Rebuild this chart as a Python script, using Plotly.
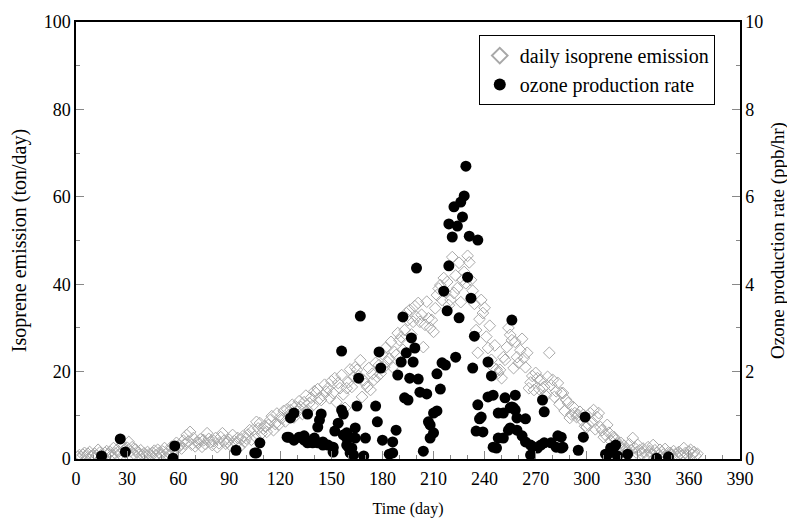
import plotly.graph_objects as go

# Daily isoprene emission (ton/day), days 1..365
iso_val = [
    0.5, 0.9, 0.4, 1.0, 1.4, 0.6, 1.2, 1.6, 0.7, 0.9,
    1.2, 0.8, 2.1, 1.5, 1.0, 0.6, 1.4, 1.8, 1.1, 1.6,
    0.9, 2.5, 1.3, 2.1, 1.7, 1.1, 3.2, 2.0, 1.5, 2.6,
    3.9, 1.8, 2.7, 1.2, 2.2, 1.6, 1.0, 2.0, 0.9, 1.3,
    0.8, 1.6, 1.1, 0.6, 1.4, 1.9, 0.9, 2.1, 1.4, 1.0,
    1.7, 2.5, 1.2, 1.6, 2.0, 2.8, 1.5, 2.3, 3.7, 2.6,
    3.1, 2.4, 4.2, 3.5, 5.5, 4.0, 6.2, 3.3, 4.8, 2.9,
    3.8, 3.7, 4.5, 2.8, 4.3, 3.4, 5.9, 4.6, 3.9, 3.2,
    4.1, 4.8, 2.7, 3.6, 5.0, 5.9, 4.2, 3.5, 3.9, 4.4,
    3.0, 5.5, 4.1, 3.6, 4.8, 2.7, 4.5, 5.2, 3.9, 4.7,
    5.6, 6.6, 4.4, 6.6, 5.2, 8.5, 7.0, 8.2, 5.8, 6.9,
    7.5, 6.2, 7.8, 8.9, 9.8, 6.6, 8.0, 10.4, 7.8, 9.6,
    9.4, 11.0, 8.6, 11.4, 10.0, 11.2, 12.4, 9.5, 12.0, 10.8,
    13.2, 11.9, 10.3, 13.0, 14.5, 11.2, 12.8, 14.0, 12.2, 15.5,
    15.1, 16.0, 13.8, 13.5, 14.6, 17.0, 15.4, 16.2, 13.9, 17.8,
    15.1, 18.5, 13.0, 17.4, 16.2, 19.2, 14.8, 11.7, 16.2, 17.6,
    20.5, 16.5, 18.8, 21.0, 20.4, 19.0, 22.6, 14.2, 18.0, 17.2,
    16.5, 20.8, 15.8, 19.5, 18.1, 22.0, 18.8, 21.5, 19.6, 24.0,
    21.0, 25.5, 22.2, 23.0, 26.8, 21.0, 24.5, 23.8, 28.8, 27.2,
    27.9, 25.0, 29.5, 33.4, 31.8, 34.1, 28.5, 31.4, 35.0, 32.5,
    35.7, 31.4, 33.0, 25.6, 30.7, 36.0, 32.2, 30.0, 31.8, 29.1,
    34.5, 37.5, 39.0, 39.8, 36.4, 41.4, 38.2, 40.5, 35.2, 36.4,
    46.2, 38.0, 42.0, 39.1, 44.9, 35.9, 41.0, 42.8, 40.2, 46.5,
    45.0, 41.0, 38.5, 35.5, 29.5, 24.3, 32.0, 36.4, 33.4, 34.6,
    28.0, 25.4, 30.5, 22.7, 21.0, 26.0, 20.5, 19.7, 20.4, 18.5,
    23.3, 22.7, 25.6, 30.0, 28.4, 27.2, 20.8, 26.8, 23.3, 22.0,
    24.9, 27.5, 23.1, 21.0, 24.3, 16.2, 17.5, 19.0, 15.8, 19.7,
    18.5, 16.0, 18.1, 16.2, 16.5, 14.5, 18.8, 24.3, 16.9, 18.1,
    14.2, 15.5, 17.4, 12.5, 15.1, 15.1, 11.0, 13.5, 12.8, 9.4,
    10.2, 11.9, 10.5, 9.6, 10.1, 10.8, 8.9, 10.1, 7.5, 7.3,
    7.8, 10.5, 8.5, 11.2, 6.8, 9.6, 10.5, 7.3, 6.6, 5.0,
    5.5, 7.8, 6.0, 4.2, 5.2, 5.0, 4.3, 3.5, 2.8, 3.7,
    2.5, 3.0, 2.2, 1.8, 3.4, 2.0, 4.8, 2.6, 1.5, 3.2,
    2.0, 1.2, 2.4, 1.6, 0.9, 2.7, 1.8, 1.1, 3.2, 2.0,
    1.4, 0.8, 2.1, 1.6, 1.0, 2.3, 0.7, 1.5, 1.4, 0.9,
    1.8, 1.1, 0.6, 1.6, 1.2, 0.8, 2.5, 1.4, 0.9, 1.7,
    2.1, 1.0, 1.6, 0.7, 1.2,
]
iso_day = list(range(1, len(iso_val) + 1))

# Ozone production rate (ppb/hr)
o3_day = [
    15, 26, 29, 57, 58, 94, 105, 106, 108,
    124, 125, 126, 128, 128, 131, 132, 134, 134, 135, 136, 136, 139, 139, 140,
    142, 142, 143, 144, 145, 145, 146, 148, 151, 151, 151, 152, 154, 156, 156,
    157, 157, 159, 159, 159, 160, 161, 161, 161, 162, 163, 164, 164, 165, 166,
    167, 169, 170, 176, 177, 178, 179, 180, 184, 186, 186,
    188, 189, 191, 192, 193, 194, 195, 196, 197, 198, 199, 200, 201, 202, 204,
    206, 207, 208, 208, 210, 210, 212, 212, 214, 215, 216, 217, 218, 219, 219,
    221, 222, 223, 224, 225, 226, 227, 228, 229, 230, 231, 232, 233, 234, 235,
    236, 236, 237, 238, 239, 242, 242, 244, 245, 245, 247, 248, 248, 251, 251,
    252, 254, 255, 255, 256, 256, 257, 258, 258, 259, 259, 262, 264, 264, 267,
    267, 269, 271, 273, 274, 275, 275, 279, 282, 283, 285, 285, 286, 295, 298,
    299, 311, 312, 314, 315, 316, 317, 318, 324, 341, 348,
]
o3_val = [
    0.07, 0.46, 0.16, 0.02, 0.30, 0.20, 0.14, 0.14, 0.37,
    0.50, 0.50, 0.94, 1.05, 0.43, 0.50, 0.50, 0.53, 0.43, 0.43, 1.03, 0.37, 0.37, 0.43, 0.48,
    0.73, 0.37, 0.89, 1.03, 0.39, 0.32, 0.34, 0.32, 0.27, 0.16, 0.25, 0.64, 0.82, 1.12, 2.47,
    1.03, 0.55, 0.60, 0.48, 0.32, 0.27, 0.50, 0.14, 0.25, 0.25, 0.09, 0.71, 0.48, 1.21, 1.85,
    3.27, 0.07, 0.48, 1.21, 0.85, 2.45, 2.08, 0.43, 0.11, 0.39, 0.14,
    0.66, 1.92, 2.22, 3.25, 1.40, 2.43, 1.35, 1.85, 2.77, 2.22, 2.54, 4.37, 1.83, 1.53, 0.18,
    1.49, 0.85, 0.78, 0.48, 1.05, 0.60, 1.10, 1.95, 1.60, 2.20, 3.84, 2.15, 3.39, 4.42, 5.38,
    5.08, 5.77, 2.33, 5.33, 3.23, 5.88, 5.54, 6.02, 6.70, 4.16, 5.10, 3.68, 2.08, 2.81, 0.64,
    5.01, 1.24, 0.92, 0.96, 0.62, 1.42, 2.22, 1.90, 1.46, 0.27, 0.25, 0.48, 1.05, 1.05, 0.48,
    1.40, 0.66, 1.17, 0.71, 1.19, 3.18, 1.17, 1.46, 1.12, 0.94, 0.66, 0.53, 0.92, 0.39, 0.32,
    0.09, 0.27, 0.25, 0.32, 1.35, 1.08, 0.37, 0.37, 0.27, 0.53, 0.25, 0.50, 0.27, 0.20, 0.50,
    0.96, 0.11, 0.09, 0.25, 0.20, 0.27, 0.32, 0.07, 0.11, 0.02, 0.05,
]

x_ticks = list(range(0, 391, 30))

FONT = "Liberation Serif, Times New Roman, serif"

fig = go.Figure()
fig.add_trace(go.Scatter(
    x=iso_day, y=iso_val, mode="markers", name="daily isoprene emission",
    marker=dict(symbol="diamond-open", size=9, color="#a8a8a8", line=dict(width=1, color="#a8a8a8")),
))
fig.add_trace(go.Scatter(
    x=o3_day, y=o3_val, mode="markers", name="ozone production rate", yaxis="y2",
    marker=dict(symbol="circle", size=11, color="black"),
))

axis_common = dict(
    showgrid=False, zeroline=False, showline=True, linecolor="black", linewidth=1.5,
    ticks="inside", ticklen=8, tickcolor="#888", tickwidth=1, automargin=False,
    tickfont=dict(family=FONT, size=18, color="black"),
)

# page body has an 8px margin: figure is sized/positioned to compensate
fig.update_layout(
    width=787, height=513,
    margin=dict(l=68, r=55, t=14, b=62),
    paper_bgcolor="white", plot_bgcolor="white",
    font=dict(family=FONT, size=16, color="black"),
    showlegend=True,
    legend=dict(
        x=0.962, y=0.97, xanchor="right", yanchor="top",
        bordercolor="black", borderwidth=1, bgcolor="white",
        font=dict(family=FONT, size=20, color="black"),
        tracegroupgap=0, itemsizing="constant", itemwidth=30,
    ),
    xaxis=dict(
        range=[0, 390], tickvals=x_ticks, mirror=True, ticklabelstandoff=3,
        minor=dict(dtick=10, ticks="inside", ticklen=4, tickcolor="#888"),
        title=dict(text="Time (day)", font=dict(family=FONT, size=16), standoff=14),
        **axis_common,
    ),
    yaxis=dict(
        range=[0, 100], dtick=20,
        minor=dict(dtick=10, ticks="inside", ticklen=4, tickcolor="#888"),
        title=dict(text="Isoprene emission (ton/day)", font=dict(family=FONT, size=20), standoff=14),
        **axis_common,
    ),
    yaxis2=dict(
        range=[0, 10], dtick=2, overlaying="y", side="right",
        minor=dict(dtick=1, ticks="inside", ticklen=4, tickcolor="#888"),
        title=dict(text="Ozone production rate (ppb/hr)", font=dict(family=FONT, size=19), standoff=8),
        **axis_common,
    ),
)

fig.write_html("out.html")
